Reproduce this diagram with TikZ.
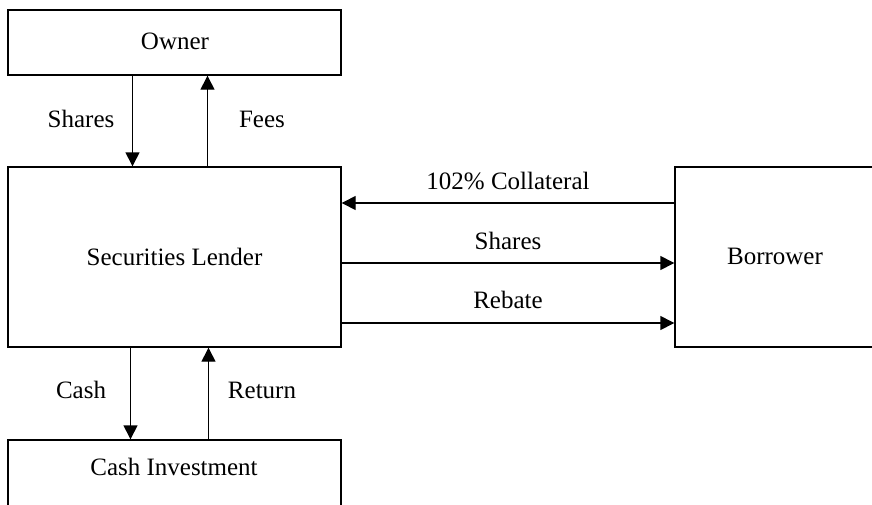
\documentclass[tikz,border=0pt]{standalone}
\usepackage{fontspec}
\setmainfont{Liberation Serif}
\usepackage{tikz}
\usetikzlibrary{arrows.meta}

\begin{document}
\begin{tikzpicture}[x=0.5pt,y=-0.5pt,
  box/.style={draw,line width=0.7pt,minimum width=166.5pt,inner sep=0pt},
  flow/.style={-{Triangle[length=7pt,width=7pt]},line width=0.7pt},
  every node/.style={font=\fontsize{12.5}{14}\selectfont}]
\useasboundingbox (0,0) rectangle (872,504);
\clip (0,0) rectangle (872,504);
% boxes
\node[box,minimum height=32.5pt] (owner) at (174.5,42.5) {};
\node (ownertxt) at (175,41) {Owner};
\node[box,minimum height=90pt] (lender) at (174.5,257) {Securities Lender};
\node[box,minimum height=40pt] (invest) at (174.5,480) {};
\node (investtxt) at (174,467) {Cash Investment};
\node[box,minimum width=104pt,minimum height=90pt] (borrower) at (779,257) {};
\node (borrowertxt) at (775,256) {Borrower};
% owner <-> lender
\draw[flow] ([xshift=-21pt] owner.south) -- ([xshift=-21pt] lender.north);
\draw[flow] ([xshift=16.5pt] lender.north) -- ([xshift=16.5pt] owner.south);
\node (sharesup) at (81,119) {Shares};
\node (fees) at (262,119) {Fees};
% lender <-> investment
\draw[flow] ([xshift=-22pt] lender.south) -- ([xshift=-22pt] invest.north);
\draw[flow] ([xshift=17pt] invest.north) -- ([xshift=17pt] lender.south);
\node (cash) at (81,390) {Cash};
\node (return) at (262,390) {Return};
% lender <-> borrower
\draw[flow] ([yshift=27pt] borrower.west) -- ([yshift=27pt] lender.east);
\draw[flow] ([yshift=-3pt] lender.east) -- ([yshift=-3pt] borrower.west);
\draw[flow] ([yshift=-33pt] lender.east) -- ([yshift=-33pt] borrower.west);
\node (collateral) at (508,181) {102\% Collateral};
\node (sharesout) at (508,241) {Shares};
\node (rebate) at (508,300) {Rebate};
\end{tikzpicture}
\end{document}
